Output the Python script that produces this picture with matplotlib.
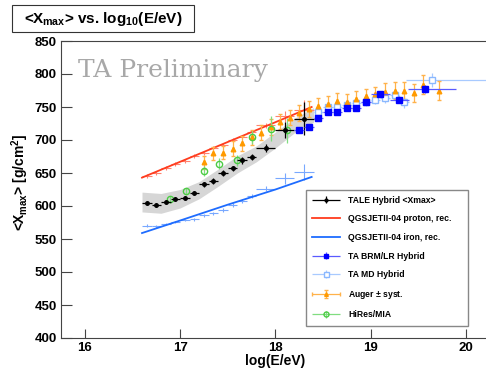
import numpy as np
import matplotlib.pyplot as plt
from matplotlib.patches import Rectangle
from matplotlib.legend_handler import HandlerErrorbar
from matplotlib.container import ErrorbarContainer

plt.rcParams['font.family'] = ['Liberation Sans', 'DejaVu Sans']
plt.rcParams['font.weight'] = 'bold'
plt.rcParams['mathtext.fontset'] = 'custom'
plt.rcParams['mathtext.rm'] = 'Liberation Sans:bold'
plt.rcParams['mathtext.bf'] = 'Liberation Sans:bold'
plt.rcParams['mathtext.default'] = 'bf'

# TALE hybrid <Xmax>
tale_x = [16.65, 16.75, 16.85, 16.95, 17.05, 17.15, 17.25, 17.35, 17.45, 17.55, 17.65, 17.75, 17.9, 18.1, 18.3]
tale_xerr = [0.05] * 12 + [0.1, 0.1, 0.1]
tale_y = [605, 602, 606, 611, 612, 619, 633, 638, 650, 657, 669, 674, 688, 715, 732]
tale_yerr = [3, 3, 3, 3, 3, 3, 4, 4, 4, 4, 5, 5, 6, 12, 25]

# TALE systematic band
band_x = [16.6, 16.8, 17.0, 17.2, 17.4, 17.6, 17.8, 18.0, 18.2, 18.4]
band_lo = [591, 589, 597, 611, 630, 650, 667, 688, 711, 727]
band_hi = [621, 619, 625, 637, 656, 676, 691, 712, 733, 749]

# QGSJETII-04 reconstructed proton / iron
sim_x = tale_x
prot_y = [646, 650, 657, 663, 668, 676, 681, 688, 693, 700, 705, 712, 722, 736, 745]
prot_yerr = [3, 3, 3, 3, 3, 3, 3, 3, 3, 3, 3, 3, 4, 8, 15]
iron_y = [570, 569, 573, 576, 579, 580, 586, 589, 594, 602, 607, 615, 626, 642, 652]
iron_yerr = [2, 2, 2, 2, 2, 2, 2, 2, 3, 3, 3, 3, 4, 8, 12]
prot_line_x = [16.6, 17.0, 17.5, 18.0, 18.38]
prot_line_y = [643, 667, 697, 727, 750]
iron_line_x = [16.6, 17.0, 17.5, 18.0, 18.38]
iron_line_y = [559, 578, 602, 625, 644]

# TA BRM/LR hybrid
brm_x = [18.25, 18.35, 18.45, 18.55, 18.65, 18.75, 18.85, 18.95, 19.1, 19.3, 19.57]
brm_xlo = [0.05] * 8 + [0.1, 0.1, 0.18]
brm_xhi = [0.05] * 8 + [0.1, 0.1, 0.33]
brm_y = [715, 720, 734, 743, 743, 749, 749, 758, 769, 761, 777]
brm_yerr = [3, 3, 3, 3, 3, 3, 3, 4, 4, 5, 6]

# TA MD hybrid
md_x = [18.45, 18.55, 18.65, 18.75, 18.85, 18.95, 19.05, 19.15, 19.25, 19.35, 19.64]
md_xlo = [0.05] * 10 + [0.27]
md_xhi = [0.05] * 10 + [0.7]
md_y = [743, 750, 750, 753, 756, 758, 761, 763, 768, 757, 791]
md_yerr = [5, 5, 5, 5, 5, 6, 6, 7, 8, 9, 10]

# Auger +- syst.
aug_x = [17.25, 17.35, 17.45, 17.55, 17.65, 17.75, 17.85, 17.95, 18.05, 18.15, 18.25, 18.35, 18.45,
         18.55, 18.65, 18.75, 18.85, 18.95, 19.05, 19.15, 19.25, 19.35, 19.45, 19.55, 19.72]
aug_y = [666, 680, 681, 687, 695, 704, 711, 720, 728, 734, 741, 747, 752,
         754, 759, 757, 762, 766, 769, 773, 775, 775, 771, 784, 775]
aug_yerr = [10, 10, 10, 11, 11, 11, 11, 12, 12, 12, 12, 12, 12,
            12, 12, 12, 12, 12, 12, 13, 13, 13, 14, 14, 14]

# HiRes/MIA
hr_x = [16.89, 17.06, 17.25, 17.41, 17.6, 17.75, 17.95, 18.12]
hr_y = [610, 622, 653, 664, 669, 704, 717, 715]
hr_yerr = [5, 6, 8, 8, 8, 10, 19, 19]

fig = plt.figure(figsize=(4.86, 3.71), dpi=100)
ax = fig.add_axes([61 / 486, 33 / 371, 4.5 * 95.3 / 486, 297 / 371])

ax.fill_between(band_x, band_lo, band_hi, color='#d6d6d6', lw=0, zorder=1)

ax.plot(prot_line_x, prot_line_y, color='#ff3c1e', lw=1.3, zorder=3, label='QGSJETII-04 proton, rec.')
ax.plot(iron_line_x, iron_line_y, color='#1e6cff', lw=1.3, zorder=3, label='QGSJETII-04 iron, rec.')
ax.errorbar(sim_x, prot_y, xerr=tale_xerr, yerr=prot_yerr, fmt='none', ecolor='#ff8270', elinewidth=0.8, zorder=2)
ax.errorbar(sim_x, iron_y, xerr=tale_xerr, yerr=iron_yerr, fmt='none', ecolor='#78a8ff', elinewidth=0.8, zorder=2)

h_tale = ax.errorbar(tale_x, tale_y, xerr=tale_xerr, yerr=tale_yerr, fmt='o', ms=2.5, color='black',
                     ecolor='black', elinewidth=0.9, zorder=5, label='TALE Hybrid <Xmax>')
h_brm = ax.errorbar(brm_x, brm_y, xerr=[brm_xlo, brm_xhi], yerr=brm_yerr, fmt='s', ms=4, color='#0000ff',
                    ecolor='#5a5aff', elinewidth=0.9, zorder=6, label='TA BRM/LR Hybrid')
h_md = ax.errorbar(md_x, md_y, xerr=[md_xlo, md_xhi], yerr=md_yerr, fmt='s', ms=4.5, mfc='white',
                   mec='#8ab8ff', mew=1.0, ecolor='#a8caff', elinewidth=0.9, zorder=4, label='TA MD Hybrid')
h_aug = ax.errorbar(aug_x, aug_y, xerr=[0] * len(aug_x), yerr=aug_yerr, fmt='^', ms=3.3, color='#ff9a00',
                    ecolor='#ffb24a', elinewidth=0.9, capsize=1.2, zorder=4, label='Auger $\\pm$ syst.')
h_hr = ax.errorbar(hr_x, hr_y, xerr=[0] * len(hr_x), yerr=hr_yerr, fmt='o', ms=4.5, mfc='none', mec='#4ccc44',
                   mew=1.0, ecolor='#80dd80', elinewidth=0.9, zorder=4, label='HiRes/MIA')

ax.set_xlim(15.75, 20.25)
ax.set_ylim(400, 850)
ax.set_xticks([16, 17, 18, 19, 20])
ax.set_yticks(np.arange(400, 851, 50))
ax.tick_params(axis='y', direction='in', length=8, width=0.8, labelsize=9.5, pad=3, color='#444444')
ax.tick_params(axis='x', direction='in', length=6.5, width=0.8, labelsize=9.5, pad=3, color='#444444')
for s in ax.spines.values():
    s.set_color('#444444')
    s.set_linewidth(0.8)
ax.set_xlabel('log(E/eV)', fontsize=10, fontweight='bold', labelpad=0)
ax.set_ylabel('<X$_{max}$> [g/cm$^{2}$]', fontsize=10, fontweight='bold')
ax.yaxis.set_label_coords(-0.07, 0.525)

ax.text(15.93, 805, 'TA Preliminary', family='DejaVu Serif', fontweight='normal', fontsize=18,
        color='#a8a8a8', va='center', ha='left')

handles = [h_tale, ax.lines[0], ax.lines[1], h_brm, h_md, h_aug, h_hr]
labels = ['TALE Hybrid <Xmax>', 'QGSJETII-04 proton, rec.', 'QGSJETII-04 iron, rec.',
          'TA BRM/LR Hybrid', 'TA MD Hybrid', 'Auger $\\pm$ syst.', 'HiRes/MIA']
leg = fig.legend(handles, labels, loc='upper left', bbox_to_anchor=(302 / 486, 1 - 189 / 371, 170 / 486, 0.01),
                 mode='expand', fontsize=6.2, handlelength=3.2, handletextpad=1.0, labelspacing=1.12,
                 borderpad=0.7, fancybox=False, framealpha=1, edgecolor='#888888', markerscale=0.8,
                 handler_map={ErrorbarContainer: HandlerErrorbar(xerr_size=1.6, yerr_size=0.45)})
leg.get_frame().set_linewidth(1.0)

fig.patches.append(Rectangle((12 / 486, 1 - 32 / 371), 182 / 486, 27 / 371, transform=fig.transFigure,
                             fill=True, facecolor='white', edgecolor='#333333', lw=0.8))
fig.text(103 / 486, 1 - 18.5 / 371, '<X$_{max}$> vs. log$_{10}$(E/eV)', fontsize=11, fontweight='bold',
         ha='center', va='center')

fig.savefig('out.png', dpi=100)
